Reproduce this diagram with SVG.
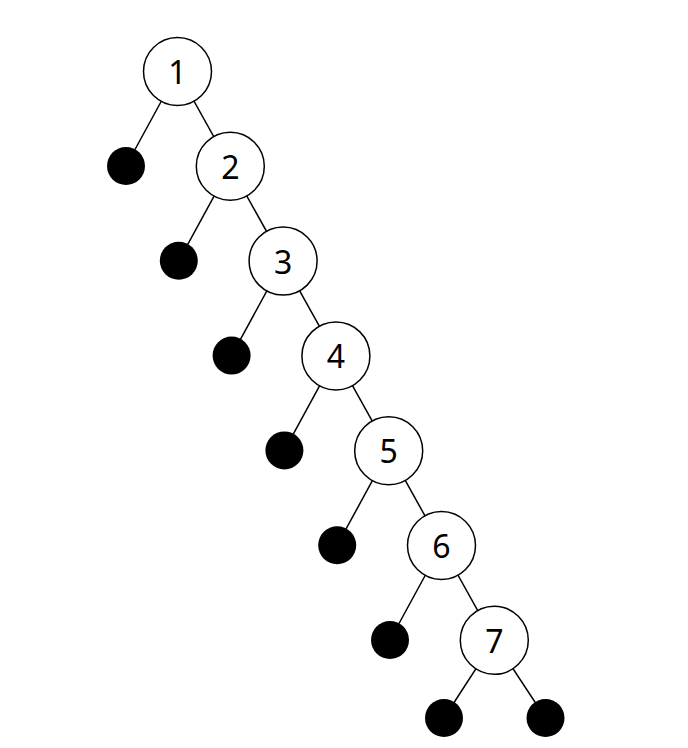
<svg xmlns="http://www.w3.org/2000/svg" width="688" height="748" viewBox="0 0 688 748">
<style>
.n{fill:#fff;stroke:#000;stroke-width:1.5}
.leaf{fill:#000}
.e{stroke:#000;stroke-width:1.5;fill:none}
text{font-family:"Noto Sans","DejaVu Sans",sans-serif;font-size:32px;text-anchor:middle;dominant-baseline:central;fill:#000}
</style>
<rect width="688" height="748" fill="#fff"/>
<g id="connectors">
<line class="e" x1="177.5" y1="71.5" x2="126" y2="166"/>
<line class="e" x1="177.5" y1="71.5" x2="230.3" y2="166.3"/>
<line class="e" x1="230.3" y1="166.3" x2="178.8" y2="260.8"/>
<line class="e" x1="230.3" y1="166.3" x2="283.1" y2="261.1"/>
<line class="e" x1="283.1" y1="261.1" x2="231.6" y2="355.6"/>
<line class="e" x1="283.1" y1="261.1" x2="335.9" y2="355.9"/>
<line class="e" x1="335.9" y1="355.9" x2="284.4" y2="450.4"/>
<line class="e" x1="335.9" y1="355.9" x2="388.7" y2="450.7"/>
<line class="e" x1="388.7" y1="450.7" x2="337.2" y2="545.2"/>
<line class="e" x1="388.7" y1="450.7" x2="441.5" y2="545.5"/>
<line class="e" x1="441.5" y1="545.5" x2="390" y2="640"/>
<line class="e" x1="441.5" y1="545.5" x2="494.3" y2="640.3"/>
<line class="e" x1="494.3" y1="640.3" x2="444" y2="718"/>
<line class="e" x1="494.3" y1="640.3" x2="545.5" y2="718"/>
</g>
<g id="leaf1"><circle class="leaf" cx="126" cy="166" r="19"/></g>
<g id="leaf2"><circle class="leaf" cx="178.8" cy="260.8" r="19"/></g>
<g id="leaf3"><circle class="leaf" cx="231.6" cy="355.6" r="19"/></g>
<g id="leaf4"><circle class="leaf" cx="284.4" cy="450.4" r="19"/></g>
<g id="leaf5"><circle class="leaf" cx="337.2" cy="545.2" r="19"/></g>
<g id="leaf6"><circle class="leaf" cx="390" cy="640" r="19"/></g>
<g id="leaf7"><circle class="leaf" cx="444" cy="718" r="19"/></g>
<g id="leaf8"><circle class="leaf" cx="545.5" cy="718" r="19"/></g>
<g id="node1"><circle class="n" cx="177.5" cy="71.5" r="34"/><text x="177.5" y="71.5">1</text></g>
<g id="node2"><circle class="n" cx="230.3" cy="166.3" r="34"/><text x="230.3" y="166.3">2</text></g>
<g id="node3"><circle class="n" cx="283.1" cy="261.1" r="34"/><text x="283.1" y="261.1">3</text></g>
<g id="node4"><circle class="n" cx="335.9" cy="355.9" r="34"/><text x="335.9" y="355.9">4</text></g>
<g id="node5"><circle class="n" cx="388.7" cy="450.7" r="34"/><text x="388.7" y="450.7">5</text></g>
<g id="node6"><circle class="n" cx="441.5" cy="545.5" r="34"/><text x="441.5" y="545.5">6</text></g>
<g id="node7"><circle class="n" cx="494.3" cy="640.3" r="34"/><text x="494.3" y="640.3">7</text></g>
</svg>
